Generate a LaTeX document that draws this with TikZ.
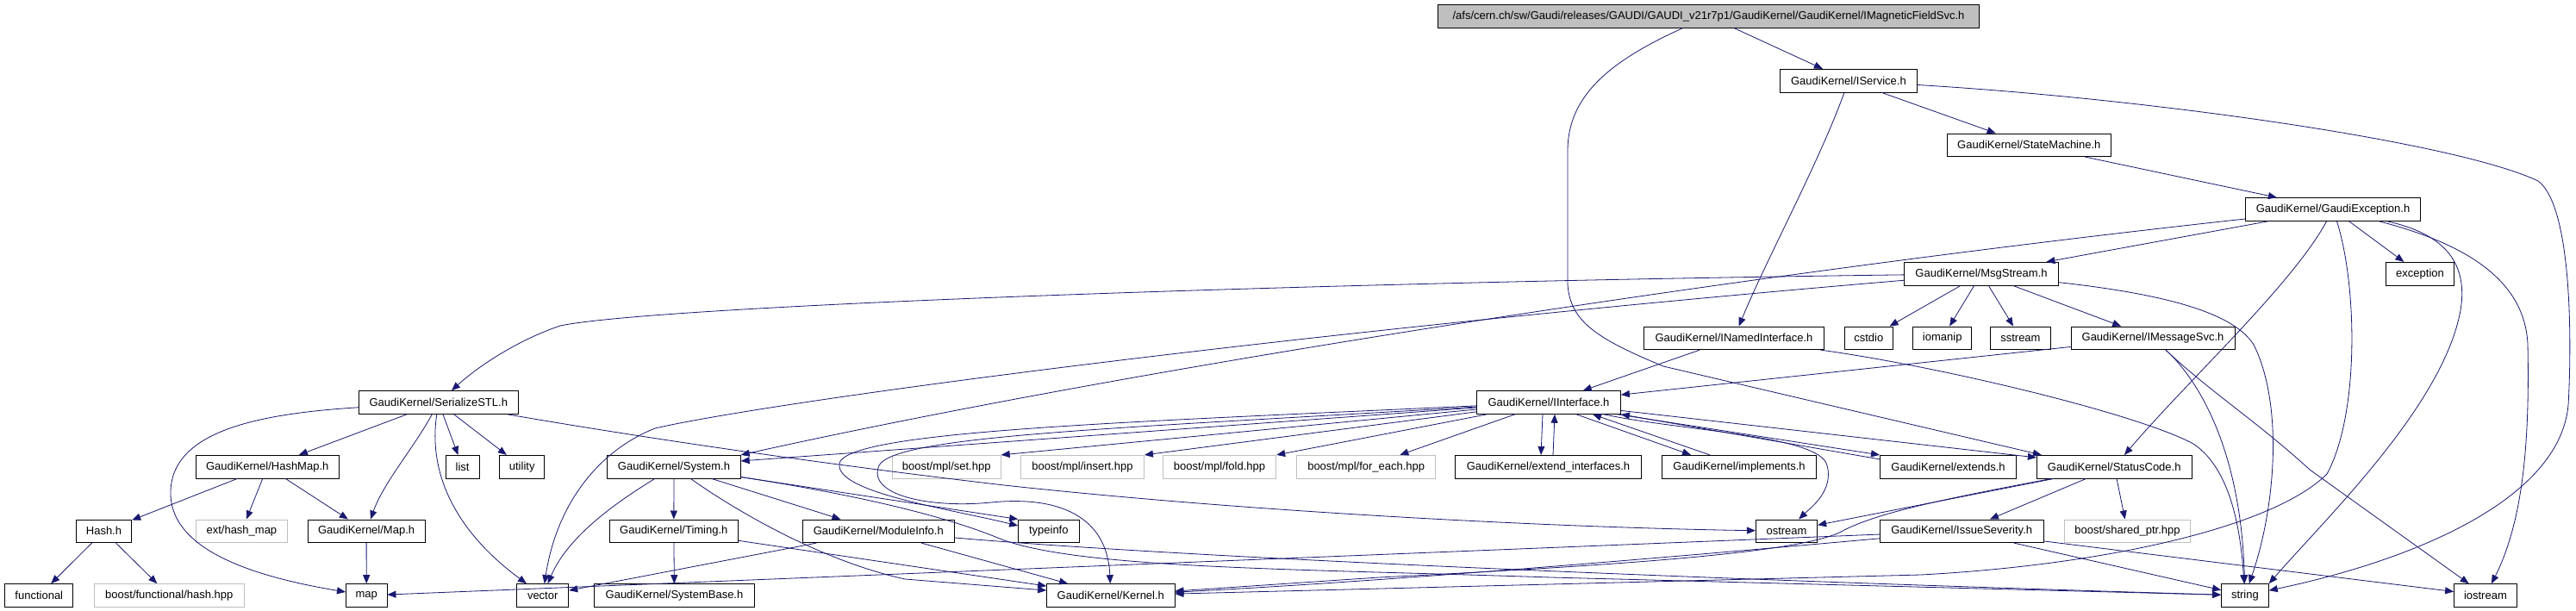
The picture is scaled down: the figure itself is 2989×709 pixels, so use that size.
\documentclass[tikz,border=0pt]{standalone}
\usepackage{fontspec}
\setmainfont{Liberation Sans}
\usetikzlibrary{arrows.meta}
\definecolor{edgeblue}{HTML}{191970}
\definecolor{rootgray}{HTML}{BFBFBF}
\begin{document}
\begin{tikzpicture}[x=1pt,y=-1pt,
  nb/.style={draw=black, fill=white, line width=0.9pt, rectangle, inner sep=0pt, minimum height=26.7pt, font=\fontsize{13}{15}\selectfont},
  ng/.style={nb, draw=rootgray},
  nroot/.style={nb, fill=rootgray},
  edg/.style={draw=edgeblue, line width=0.8pt, -{Triangle[length=10pt,width=8pt]}},
]
\useasboundingbox (0,0) rectangle (2989,709);
\fill[white] (0,0) rectangle (2989,709);
% row 0-5
\node[nroot, minimum width=627.8pt] (root) at (1982.5,19) {/afs/cern.ch/sw/Gaudi/releases/GAUDI/GAUDI\_v21r7p1/GaudiKernel/GaudiKernel/IMagneticFieldSvc.h};
\node[nb, minimum width=158.5pt] (iserv) at (2144.9,93.7) {GaudiKernel/IService.h};
\node[nb, minimum width=189.6pt] (stm) at (2354.3,168.3) {GaudiKernel/StateMachine.h};
\node[nb, minimum width=203.5pt] (gex) at (2707,243) {GaudiKernel/GaudiException.h};
\node[nb, minimum width=179pt] (msg) at (2299,317.7) {GaudiKernel/MsgStream.h};
\node[nb, minimum width=79pt] (exc) at (2808,317.7) {exception};
\node[nb, minimum width=209pt] (inamed) at (2012,392.3) {GaudiKernel/INamedInterface.h};
\node[nb, minimum width=56.2pt] (cstdio) at (2168.3,392.3) {cstdio};
\node[nb, minimum width=68pt] (iomanip) at (2253.7,392.3) {iomanip};
\node[nb, minimum width=69.8pt] (sstream) at (2344.4,392.3) {sstream};
\node[nb, minimum width=190pt] (imsg) at (2498,392.3) {GaudiKernel/IMessageSvc.h};
% row 6
\node[nb, minimum width=184.7pt] (sstl) at (508.8,467) {GaudiKernel/SerializeSTL.h};
\node[nb, minimum width=166.8pt] (iint) at (1797,467) {GaudiKernel/IInterface.h};
% row 7
\node[nb, minimum width=165.8pt] (hmap) at (310.2,541.7) {GaudiKernel/HashMap.h};
\node[nb, minimum width=38.8pt] (list) at (536.6,541.7) {list};
\node[nb, minimum width=51.9pt] (utility) at (605.7,541.7) {utility};
\node[nb, minimum width=154.4pt] (sys) at (782,541.7) {GaudiKernel/System.h};
\node[ng, minimum width=126pt] (mplset) at (1098.2,541.7) {boost/mpl/set.hpp};
\node[ng, minimum width=143pt] (mplinsert) at (1256,541.7) {boost/mpl/insert.hpp};
\node[ng, minimum width=131.4pt] (mplfold) at (1415,541.7) {boost/mpl/fold.hpp};
\node[ng, minimum width=161pt] (mplforeach) at (1585.2,541.7) {boost/mpl/for\_each.hpp};
\node[nb, minimum width=216.2pt] (extif) at (1796.5,541.7) {GaudiKernel/extend\_interfaces.h};
\node[nb, minimum width=179.3pt] (impl) at (2018,541.7) {GaudiKernel/implements.h};
\node[nb, minimum width=158.1pt] (ext) at (2260.5,541.7) {GaudiKernel/extends.h};
\node[nb, minimum width=179.8pt] (sc) at (2453.2,541.7) {GaudiKernel/StatusCode.h};
% row 8
\node[nb, minimum width=64.5pt] (hash) at (120.5,616.3) {Hash.h};
\node[ng, minimum width=106.2pt] (hmapx) at (280.4,616.3) {ext/hash\_map};
\node[nb, minimum width=135.8pt] (mapH) at (425.1,616.3) {GaudiKernel/Map.h};
\node[nb, minimum width=149.1pt] (timing) at (781.8,616.3) {GaudiKernel/Timing.h};
\node[nb, minimum width=175.5pt] (modinfo) at (1019.3,616.3) {GaudiKernel/ModuleInfo.h};
\node[nb, minimum width=70.3pt] (typeinfo) at (1216.8,616.3) {typeinfo};
\node[nb, minimum width=71.3pt] (ostream) at (2073,616.3) {ostream};
\node[nb, minimum width=189.6pt] (issue) at (2276.2,616.3) {GaudiKernel/IssueSeverity.h};
\node[ng, minimum width=146.4pt] (shptr) at (2468.5,616.3) {boost/shared\_ptr.hpp};
% row 9
\node[nb, minimum width=79pt] (functional) at (45.3,691) {functional};
\node[ng, minimum width=173.6pt] (bfhash) at (196.3,691) {boost/functional/hash.hpp};
\node[nb, minimum width=47.5pt] (map) at (425.2,691) {map};
\node[nb, minimum width=60.1pt] (vector) at (629.7,691) {vector};
\node[nb, minimum width=185.4pt] (sysbase) at (782.5,691) {GaudiKernel/SystemBase.h};
\node[nb, minimum width=148.3pt] (kernel) at (1288.8,691) {GaudiKernel/Kernel.h};
\node[nb, minimum width=54.8pt] (str) at (2604.9,691) {string};
\node[nb, minimum width=72.7pt] (iostream) at (2883.9,691) {iostream};
% edges: root
\draw[edg] (root) -- (iserv);
\draw[edg] (root) .. controls (1870,70) and (1819,110) .. (1819,175) -- (1819,330) .. controls (1822,372) and (1850,392) .. (1930,425) -- ([xshift=6pt]sc.north west);
% iserv
\draw[edg] (iserv) .. controls (2110,190) and (2050,300) .. (inamed);
\draw[edg] (iserv) -- (stm);
\draw[edg] (iserv) .. controls (2500,115) and (2850,165) .. (2945,210) .. controls (2985,240) and (2984,400) .. (2980,470) .. controls (2970,580) and (2800,650) .. (str);
% stm
\draw[edg] (stm) -- (gex);
% gex
\draw[edg] (gex) .. controls (2000,320) and (1300,430) .. (sys.north east);
\draw[edg] (gex) -- (msg);
\draw[edg] (gex) -- (exc);
\draw[edg] (gex) .. controls (2660,330) and (2540,440) .. (sc);
\draw[edg] (gex) .. controls (2735,330) and (2738,480) .. (2700,550) .. controls (2640,610) and (2450,655) .. (2229,667) -- (kernel);
\draw[edg] (gex) .. controls (2830,270) and (2865,300) .. (2855,360) .. controls (2835,470) and (2700,600) .. (str.north east);
\draw[edg] (gex) .. controls (2870,285) and (2930,330) .. (2933,400) .. controls (2935,500) and (2930,600) .. (iostream);
% msg
\draw[edg] (msg) .. controls (1500,328) and (760,355) .. (650,378) .. controls (600,395) and (555,425) .. (sstl);
\draw[edg] (msg) .. controls (1500,385) and (900,465) .. (760,497) .. controls (690,525) and (645,590) .. (vector);
\draw[edg] (msg) -- (cstdio);
\draw[edg] (msg) -- (iomanip);
\draw[edg] (msg) -- (sstream);
\draw[edg] (msg) -- (imsg);
\draw[edg] (msg) .. controls (2500,340) and (2590,360) .. (2615,400) .. controls (2650,470) and (2640,590) .. (str);
% inamed
\draw[edg] (inamed) -- (iint);
\draw[edg] (inamed) .. controls (2250,425) and (2480,480) .. (2545,515) .. controls (2590,545) and (2600,620) .. (str);
% imsg
\draw[edg] (imsg) -- (iint);
\draw[edg] (imsg) .. controls (2550,440) and (2600,520) .. (str);
\draw[edg] (imsg) .. controls (2565,455) and (2620,490) .. (2680,545) -- (iostream);
% iint
\draw[edg] (iint) -- (sys.5);
\draw[edg] (iint) -- (mplset.north east);
\draw[edg] (iint) -- (mplinsert.north east);
\draw[edg] (iint) -- (mplfold.north east);
\draw[edg] (iint) -- (mplforeach);
\draw[edg] ([xshift=-7pt]iint.south) -- ([xshift=-8.5pt]extif.north);
\draw[edg] ([xshift=5.5pt]extif.north) -- ([xshift=7pt]iint.south);
\draw[edg] ([xshift=32pt]iint.south) -- ([xshift=-56pt]impl.north);
\draw[edg] ([xshift=-34pt]impl.north) -- ([xshift=51pt]iint.south);
\draw[edg] ([xshift=-4pt]iint.south east) -- (ext.north west);
\draw[edg] ([yshift=-5pt]ext.north west) -- (iint.south east);
\draw[edg] (iint) .. controls (1950,500) and (2112,505) .. (2120,540) .. controls (2128,570) and (2100,590) .. (ostream);
\draw[edg] (iint) -- ([yshift=-3pt]sc.north west);
\draw[edg] (iint) .. controls (1300,490) and (1000,500) .. (975,535) .. controls (960,570) and (1100,590) .. (typeinfo.170);
\draw[edg] (iint) .. controls (1300,497) and (1040,505) .. (1020,540) .. controls (1005,575) and (1080,590) .. (1150,583) .. controls (1230,575) and (1285,600) .. (kernel);
% sstl
\draw[edg] (sstl) .. controls (300,480) and (200,500) .. (198,570) .. controls (196,640) and (300,670) .. (map);
\draw[edg] (sstl) -- (hmap);
\draw[edg] (sstl) .. controls (480,520) and (445,560) .. (mapH);
\draw[edg] (sstl) .. controls (495,560) and (540,625) .. (vector);
\draw[edg] (sstl) -- (list);
\draw[edg] (sstl) -- (utility);
\draw[edg] (sstl) .. controls (700,500) and (900,532) .. (1165,563) .. controls (1450,594) and (1800,612) .. (ostream);
% hmap, hash, mapH
\draw[edg] (hmap) -- (hash);
\draw[edg] (hmap) -- (hmapx);
\draw[edg] (hmap) -- (mapH);
\draw[edg] (hash) -- (functional);
\draw[edg] (hash) -- (bfhash);
\draw[edg] (mapH) -- (map);
% sys
\draw[edg] (sys) .. controls (720,580) and (660,620) .. (vector);
\draw[edg] (sys) -- (timing);
\draw[edg] (sys) .. controls (850,590) and (950,650) .. (1050,672) -- (kernel);
\draw[edg] (sys) -- (modinfo);
\draw[edg] (sys) -- (typeinfo.north west);
\draw[edg] (sys) .. controls (1000,575) and (1100,600) .. (1160,625) .. controls (1250,660) and (1500,660) .. (1800,670) -- (str);
% timing, modinfo
\draw[edg] (timing) -- (sysbase);
\draw[edg] (timing) -- (kernel);
\draw[edg] (modinfo) -- (vector);
\draw[edg] (modinfo) -- (kernel);
\draw[edg] (modinfo) .. controls (1350,645) and (1900,670) .. (str);
% sc
\draw[edg] (sc) -- (issue);
\draw[edg] (sc) -- (shptr);
\draw[edg] (sc) -- (ostream);
\draw[edg] (sc) .. controls (2250,580) and (2180,595) .. (2140,615) .. controls (2100,640) and (1900,655) .. (1600,670) -- (kernel);
% issue
\draw[edg] (issue) -- (str);
\draw[edg] (issue) -- (iostream);
\draw[edg] (issue) -- (map);
\draw[edg] (issue) .. controls (1900,650) and (1600,675) .. (kernel);
\end{tikzpicture}
\end{document}
